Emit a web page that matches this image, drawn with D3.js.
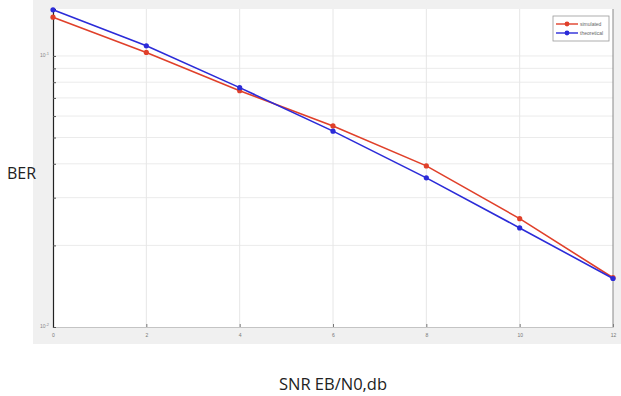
<!DOCTYPE html>
<html>
<head>
<meta charset="utf-8">
<script src="https://cdn.jsdelivr.net/npm/d3@7"></script>
<style>
  body { margin: 0; background: #fff; }
  svg { display: block; }
</style>
</head>
<body>
<div id="chart"></div>
<script>
// SNR values (dB)
const snr = [0, 2, 4, 6, 8, 10, 12];
// BER
const simulated   = [0.139, 0.103, 0.0744, 0.0552, 0.0393, 0.0251, 0.0152];
const theoretical = [0.148, 0.109, 0.0764, 0.0528, 0.0355, 0.0232, 0.0151];
const xTicks = [0, 2, 4, 6, 8, 10, 12];
const seriesNames = ["simulated", "theoretical"];
const seriesColors = ["#e0402a", "#2b2bd8"];

const width = 621, height = 396;
const margin = { top: 9, left: 53, right: 8, bottom: 69 };

const svg = d3.select("#chart").append("svg")
  .attr("width", width)
  .attr("height", height);

// matlab figure background strip
svg.append("rect")
  .attr("x", 33).attr("y", 0)
  .attr("width", width - 33).attr("height", 344)
  .attr("fill", "#f0f0f0");

const x = d3.scaleLinear().domain([0, 12]).range([margin.left, width - margin.right]);
const y = d3.scaleLog().domain([0.01, 0.149]).range([height - margin.bottom, margin.top]);

svg.append("rect")
  .attr("x", margin.left).attr("y", margin.top)
  .attr("width", width - margin.left - margin.right)
  .attr("height", height - margin.top - margin.bottom)
  .attr("fill", "#fff");

// grid
const minorVals = d3.range(2, 10).map(d => d / 100);
svg.append("g")
  .selectAll("line")
  .data([0.1].concat(minorVals))
  .join("line")
  .attr("x1", margin.left).attr("x2", width - margin.right)
  .attr("y1", d => y(d)).attr("y2", d => y(d))
  .attr("stroke", "#ebebeb").attr("stroke-width", 1);

svg.append("g")
  .selectAll("line")
  .data(xTicks.slice(1, -1))
  .join("line")
  .attr("x1", d => x(d)).attr("x2", d => x(d))
  .attr("y1", margin.top).attr("y2", height - margin.bottom)
  .attr("stroke", "#e6e6e6").attr("stroke-width", 1);

// axes
const xAxis = svg.append("g")
  .attr("transform", `translate(0,${height - margin.bottom})`)
  .call(d3.axisBottom(x).tickValues(xTicks).tickSize(-3).tickPadding(6).tickFormat(d3.format("d")));
xAxis.select(".domain").attr("stroke", "#c4c4c4");
xAxis.selectAll(".tick line").attr("stroke", "#777");
xAxis.selectAll("text").attr("font-size", 5).attr("fill", "#777").attr("font-family", "Liberation Sans");

const yAxis = svg.append("g")
  .attr("transform", `translate(${margin.left},0)`)
  .call(d3.axisLeft(y).tickValues([0.01, 0.1].concat(minorVals)).tickSize(-3).tickFormat(""));
yAxis.select(".domain").attr("stroke", "#222").attr("stroke-width", 1.2);
yAxis.selectAll(".tick line").attr("stroke", "#555");

svg.append("line")
  .attr("x1", width - margin.right).attr("x2", width - margin.right)
  .attr("y1", margin.top).attr("y2", height - margin.bottom)
  .attr("stroke", "#888");

// decade labels
[0.1, 0.01].forEach(v => {
  const t = svg.append("text")
    .attr("x", margin.left - 4).attr("y", y(v) + 1)
    .attr("text-anchor", "end")
    .attr("font-family", "Liberation Sans").attr("font-size", 5).attr("fill", "#888");
  t.append("tspan").text("10");
  t.append("tspan").attr("dy", -2).attr("font-size", 4).text(v === 0.1 ? "-1" : "-2");
});

// series
const line = d3.line().x(d => x(d[0])).y(d => y(d[1]));
[simulated, theoretical].forEach((vals, i) => {
  const pts = snr.map((s, j) => [s, vals[j]]);
  svg.append("path")
    .datum(pts)
    .attr("d", line)
    .attr("fill", "none")
    .attr("stroke", seriesColors[i])
    .attr("stroke-width", 1.6);
  svg.append("g")
    .selectAll("circle")
    .data(pts)
    .join("circle")
    .attr("cx", d => x(d[0])).attr("cy", d => y(d[1]))
    .attr("r", 2.6)
    .attr("fill", seriesColors[i]);
});

// legend
const lg = svg.append("g").attr("transform", "translate(553,16)");
lg.append("rect").attr("width", 56).attr("height", 25)
  .attr("fill", "#fff").attr("stroke", "#9a9a9a").attr("stroke-width", 0.8);
seriesNames.forEach((name, i) => {
  const yy = 8 + i * 9;
  lg.append("line").attr("x1", 3).attr("x2", 25).attr("y1", yy).attr("y2", yy)
    .attr("stroke", seriesColors[i]).attr("stroke-width", 1.4);
  lg.append("circle").attr("cx", 14).attr("cy", yy).attr("r", 2.4).attr("fill", seriesColors[i]);
  lg.append("text").attr("x", 27).attr("y", yy + 1.7)
    .attr("font-family", "Liberation Sans").attr("font-size", 5).attr("fill", "#666")
    .text(name);
});

// axis titles
svg.append("text")
  .attr("x", 7).attr("y", 179)
  .attr("font-family", "Open Sans").attr("font-size", 16).attr("fill", "#222")
  .text("BER");

svg.append("text")
  .attr("x", 333).attr("y", 390)
  .attr("text-anchor", "middle")
  .attr("font-family", "Open Sans").attr("font-size", 16.5).attr("fill", "#222")
  .text("SNR EB/N0,db");
</script>
</body>
</html>
